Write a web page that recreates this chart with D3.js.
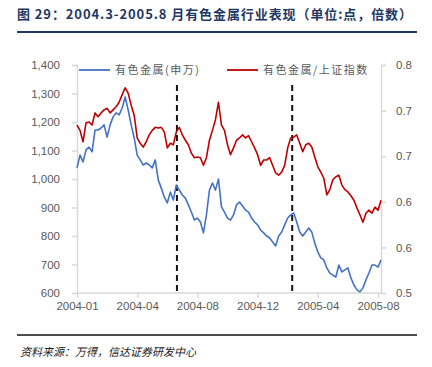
<!DOCTYPE html>
<html>
<head>
<meta charset="utf-8">
<script src="https://cdn.jsdelivr.net/npm/d3@7"></script>
<style>
  body { margin: 0; background: #fff; }
  text { font-family: "Liberation Sans", "Noto Sans CJK SC", sans-serif; }
</style>
</head>
<body>
<script>
// 有色金属(申万) index, one point per ~3px of the picture
const metals = [
  1039, 1084, 1060, 1102, 1112, 1095, 1172, 1172, 1179, 1190,
  1147, 1190, 1218, 1232, 1225, 1249, 1288, 1242, 1190, 1144,
  1084, 1067, 1049, 1056, 1049, 1039, 1067, 997, 968, 937,
  916, 954, 926, 979, 961, 944, 933, 909, 884, 856,
  863, 849, 811, 874, 961, 986, 961, 1000, 902, 884,
  863, 856, 874, 909, 919, 905, 891, 884, 863, 849,
  839, 821, 811, 800, 793, 779, 765, 800, 814, 839,
  863, 874, 881, 849, 814, 800, 814, 828, 814, 775,
  744, 723, 716, 688, 670, 663, 656, 698, 674, 681,
  688, 653, 628, 611, 604, 618, 646, 670, 698, 698,
  691, 716
];
// 有色金属/上证指数 ratio
const ratio = [
  0.721, 0.714, 0.699, 0.724, 0.725, 0.721, 0.737, 0.732, 0.737, 0.741,
  0.743, 0.737, 0.741, 0.745, 0.751, 0.761, 0.770, 0.763, 0.747, 0.734,
  0.704, 0.697, 0.692, 0.699, 0.708, 0.714, 0.718, 0.717, 0.718, 0.712,
  0.691, 0.697, 0.695, 0.712, 0.718, 0.708, 0.701, 0.695, 0.684, 0.678,
  0.679, 0.678, 0.668, 0.678, 0.701, 0.714, 0.728, 0.751, 0.721, 0.714,
  0.695, 0.682, 0.691, 0.701, 0.704, 0.708, 0.704, 0.707, 0.699, 0.691,
  0.682, 0.668, 0.675, 0.675, 0.678, 0.668, 0.658, 0.655, 0.659, 0.668,
  0.691, 0.704, 0.705, 0.708, 0.697, 0.686, 0.695, 0.697, 0.692, 0.679,
  0.666, 0.659, 0.651, 0.629, 0.636, 0.649, 0.653, 0.655, 0.642, 0.636,
  0.633, 0.628, 0.622, 0.612, 0.603, 0.593, 0.605, 0.609, 0.605, 0.613,
  0.609, 0.622
];
const xTickLabels = ["2004-01", "2004-04", "2004-08", "2004-12", "2005-04", "2005-08"];
const xTickIndex = [0, 20, 40, 60, 80, 100];
const leftTicks = [600, 700, 800, 900, 1000, 1100, 1200, 1300, 1400];
const rightTicks = [0.5, 0.56, 0.62, 0.68, 0.74, 0.8];
const eventIndex = [33.2, 71.5];
const seriesNames = ["有色金属(申万)", "有色金属/上证指数"];

const W = 432, H = 367;
const plot = { left: 77, right: 381, top: 65, bottom: 293 };
const blue = "#4472c4", red = "#c00000", grey = "#595959", axisGrey = "#d9d9d9";

const svg = d3.select("body").append("svg")
  .attr("width", W)
  .attr("height", H);

// title
svg.append("text")
  .attr("x", 17)
  .attr("y", 19)
  .attr("fill", "#1f3864")
  .style("font-size", "13px")
  .style("font-weight", "bold")
  .style("font-family", "'Noto Sans CJK SC', sans-serif")
  .attr("textLength", 395)
  .text("图 29：2004.3-2005.8 月有色金属行业表现（单位:点，倍数）");

svg.append("line")
  .attr("x1", 17).attr("x2", 417)
  .attr("y1", 32).attr("y2", 32)
  .style("stroke", "#1f3864")
  .style("stroke-width", 2);

const x = d3.scaleLinear().domain([0, metals.length - 1]).range([plot.left, plot.right]);
const yL = d3.scaleLinear().domain([600, 1400]).range([plot.bottom, plot.top]);
const yR = d3.scaleLinear().domain([0.5, 0.8]).range([plot.bottom, plot.top]);

const styleAxis = (g) => {
  g.select(".domain").style("stroke", axisGrey).style("stroke-width", 1.5);
  g.selectAll(".tick line").style("stroke", axisGrey).style("stroke-width", 1.5);
  g.selectAll(".tick text")
    .attr("fill", grey)
    .style("font-size", "11.5px")
    .style("font-family", "'Liberation Sans', sans-serif");
};

svg.append("g")
  .attr("transform", `translate(${plot.left},0)`)
  .call(d3.axisLeft(yL).tickValues(leftTicks).tickFormat(d3.format(",")).tickSizeOuter(0).tickSize(5).tickPadding(12))
  .call(styleAxis);

svg.append("g")
  .attr("transform", `translate(${plot.right},0)`)
  .call(d3.axisRight(yR).tickValues(rightTicks).tickFormat(d3.format(".1f")).tickSizeOuter(0).tickSize(5).tickPadding(10))
  .call(styleAxis);

svg.append("g")
  .attr("transform", `translate(0,${plot.bottom})`)
  .call(d3.axisBottom(x).tickValues(xTickIndex).tickFormat((d, i) => xTickLabels[i]).tickSizeOuter(0).tickSize(5).tickPadding(4))
  .call(styleAxis)
  .call((g) => g.select(".domain").attr("d", `M${plot.left},0H${plot.right}`));

// event markers
svg.selectAll(".event")
  .data(eventIndex)
  .enter()
  .append("line")
  .attr("class", "event")
  .attr("x1", (d) => x(d)).attr("x2", (d) => x(d))
  .attr("y1", 85).attr("y2", plot.bottom)
  .style("stroke", "#111")
  .style("stroke-width", 2)
  .style("stroke-dasharray", "6,4");

const lineL = d3.line().x((d, i) => x(i)).y((d) => yL(d));
const lineR = d3.line().x((d, i) => x(i)).y((d) => yR(d));

svg.append("path")
  .datum(ratio)
  .attr("d", lineR)
  .attr("fill", "none")
  .style("stroke", red)
  .style("stroke-width", 1.6)
  .style("stroke-linejoin", "round");

svg.append("path")
  .datum(metals)
  .attr("d", lineL)
  .attr("fill", "none")
  .style("stroke", blue)
  .style("stroke-width", 1.6)
  .style("stroke-linejoin", "round");

// legend
const legend = [
  { name: seriesNames[0], color: blue, x: 79 },
  { name: seriesNames[1], color: red, x: 227 },
];
const lg = svg.selectAll(".legend")
  .data(legend)
  .enter()
  .append("g")
  .attr("class", "legend")
  .attr("transform", (d) => `translate(${d.x},70)`);
lg.append("line")
  .attr("x1", 0).attr("x2", 31)
  .style("stroke", (d) => d.color)
  .style("stroke-width", 1.8);
lg.append("text")
  .attr("x", 36)
  .attr("y", 4)
  .attr("fill", grey)
  .style("font-size", "11px")
  .style("letter-spacing", "1.5px")
  .style("font-family", "'Noto Sans CJK SC', sans-serif")
  .text((d) => d.name);

// source
svg.append("line")
  .attr("x1", 17).attr("x2", 417)
  .attr("y1", 335).attr("y2", 335)
  .style("stroke", "#111")
  .style("stroke-width", 1.5);

svg.append("text")
  .attr("x", 20)
  .attr("y", 356)
  .attr("fill", "#222")
  .style("font-size", "11px")
  .style("font-style", "italic")
  .style("font-family", "'Noto Sans CJK SC', sans-serif")
  .text("资料来源：万得，信达证券研发中心");
</script>
</body>
</html>
